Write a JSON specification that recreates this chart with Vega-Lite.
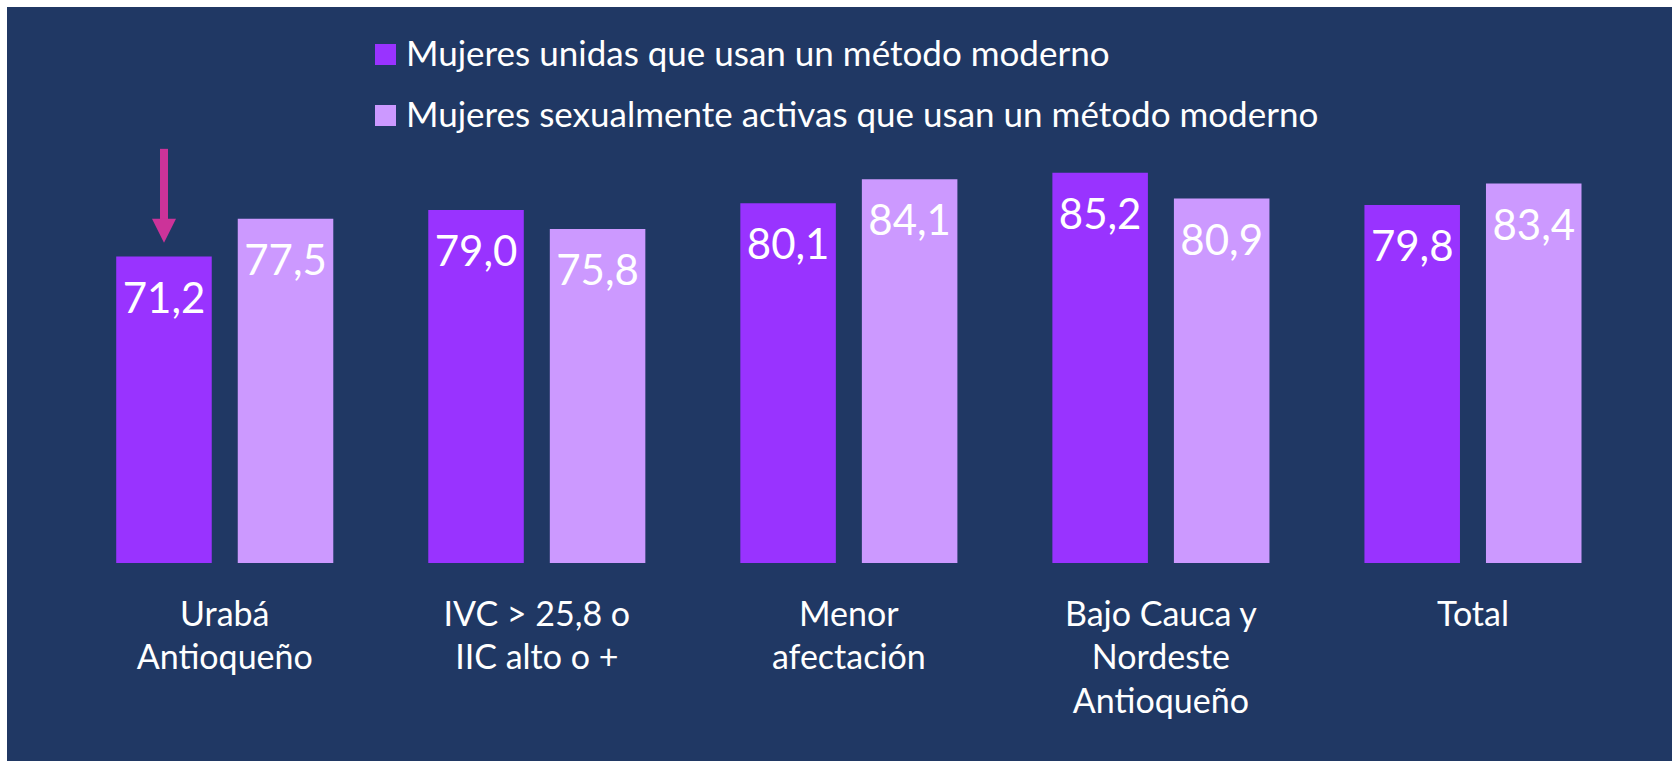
{
  "$schema": "https://vega.github.io/schema/vega-lite/v6.json",
  "autosize": "none",
  "width": 1665,
  "height": 754,
  "padding": {"left": 7, "top": 7, "right": 0, "bottom": 0},
  "background": "white",
  "config": {
    "view": {"fill": "#203864", "stroke": null},
    "font": "Lato"
  },
  "datasets": {
    "bars": [
      {"region": "Urabá Antioqueño", "serie": "Mujeres unidas que usan un método moderno", "value": 71.2},
      {"region": "Urabá Antioqueño", "serie": "Mujeres sexualmente activas que usan un método moderno", "value": 77.5},
      {"region": "IVC > 25,8 o IIC alto o +", "serie": "Mujeres unidas que usan un método moderno", "value": 79.0},
      {"region": "IVC > 25,8 o IIC alto o +", "serie": "Mujeres sexualmente activas que usan un método moderno", "value": 75.8},
      {"region": "Menor afectación", "serie": "Mujeres unidas que usan un método moderno", "value": 80.1},
      {"region": "Menor afectación", "serie": "Mujeres sexualmente activas que usan un método moderno", "value": 84.1},
      {"region": "Bajo Cauca y Nordeste Antioqueño", "serie": "Mujeres unidas que usan un método moderno", "value": 85.2},
      {"region": "Bajo Cauca y Nordeste Antioqueño", "serie": "Mujeres sexualmente activas que usan un método moderno", "value": 80.9},
      {"region": "Total", "serie": "Mujeres unidas que usan un método moderno", "value": 79.8},
      {"region": "Total", "serie": "Mujeres sexualmente activas que usan un método moderno", "value": 83.4}
    ],
    "arrow": [
      {"region": "Urabá Antioqueño", "serie": "Mujeres unidas que usan un método moderno", "top": 89.2, "base": 77.3, "head": 75.5}
    ]
  },
  "encoding": {
    "x": {
      "field": "region",
      "type": "nominal",
      "sort": null,
      "scale": {"paddingInner": 0.2, "paddingOuter": 0.2678, "align": 0.556},
      "axis": {
        "title": null,
        "orient": "bottom",
        "offset": -163,
        "labelPadding": 0,
        "ticks": false,
        "domain": false,
        "grid": false,
        "labelAngle": 0,
        "labelFont": "Lato",
        "labelFontSize": 34,
        "labelColor": "white",
        "labelLineHeight": 43.5,
        "labelBaseline": "top",
        "labelLimit": 0,
        "labelExpr": "datum.value == 'Urabá Antioqueño' ? ['Urabá', 'Antioqueño'] : datum.value == 'IVC > 25,8 o IIC alto o +' ? ['IVC > 25,8 o', 'IIC alto o +'] : datum.value == 'Menor afectación' ? ['Menor', 'afectación'] : datum.value == 'Bajo Cauca y Nordeste Antioqueño' ? ['Bajo Cauca y', 'Nordeste', 'Antioqueño'] : datum.value"
      }
    },
    "xOffset": {
      "field": "serie",
      "type": "nominal",
      "sort": null,
      "scale": {"domain": ["Mujeres unidas que usan un método moderno", "Mujeres sexualmente activas que usan un método moderno"], "paddingInner": 0.214, "paddingOuter": 0.134}
    }
  },
  "layer": [
    {
      "data": {"name": "bars"},
      "mark": {"type": "bar"},
      "encoding": {
        "y": {"field": "value", "type": "quantitative", "scale": {"domain": [-13.08, 112.9], "nice": false, "zero": false}, "axis": null},
        "y2": {"datum": 20},
        "fill": {
          "field": "serie",
          "type": "nominal",
          "sort": null,
          "scale": {"domain": ["Mujeres unidas que usan un método moderno", "Mujeres sexualmente activas que usan un método moderno"], "range": ["#9933FF", "#CC99FF"]},
          "legend": {
            "title": null,
            "orient": "none",
            "legendX": 361,
            "legendY": 30,
            "direction": "vertical",
            "padding": 0,
            "symbolType": "square",
            "symbolSize": 441,
            "symbolStrokeWidth": 0,
            "symbolOpacity": 1,
            "labelFont": "Lato",
            "labelFontSize": 35,
            "labelColor": "white",
            "labelLimit": 0,
            "labelOffset": 3,
            "rowPadding": 25
          }
        }
      }
    },
    {
      "data": {"name": "bars"},
      "transform": [{"calculate": "replace(format(datum.value, '.1f'), '.', ',')", "as": "label"}],
      "mark": {"type": "text", "baseline": "middle", "align": "center", "dy": 43, "fontSize": 42, "font": "Lato", "color": "white"},
      "encoding": {
        "y": {"field": "value", "type": "quantitative"},
        "text": {"field": "label"}
      }
    },
    {
      "data": {"name": "arrow"},
      "mark": {"type": "rule", "color": "#CC3399", "strokeWidth": 8},
      "encoding": {
        "y": {"field": "top", "type": "quantitative"},
        "y2": {"field": "base"}
      }
    },
    {
      "data": {"name": "arrow"},
      "mark": {"type": "point", "shape": "M-1,-1L1,-1L0,1Z", "size": 576, "filled": true, "color": "#CC3399", "opacity": 1, "strokeWidth": 0},
      "encoding": {
        "y": {"field": "head", "type": "quantitative"}
      }
    }
  ]
}
